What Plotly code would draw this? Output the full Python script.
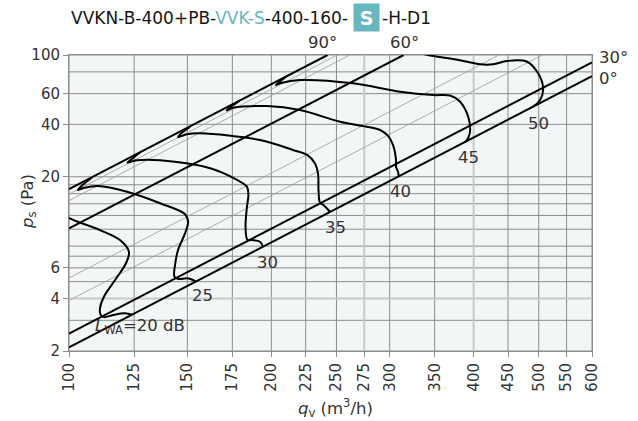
import math
import plotly.graph_objects as go

# ---- axes -------------------------------------------------------------
q_ticks = [100, 125, 150, 175, 200, 225, 250, 275, 300, 350, 400, 450, 500, 550, 600]
q_grid_light = [275, 400]
p_ticks = [2, 4, 6, 20, 40, 60, 100]
p_grid = [2, 3, 5, 6, 7, 8, 10, 12, 14, 16, 18, 20, 40, 60, 80, 100]
p_grid_light = [4]

# ---- damper positions (straight lines p ~ q^2) --------------------------
damper_labels = ["0°", "30°", "60°", "90°"]
damper_q = [[100, 600], [100, 600], [100, 314.7], [100, 242.5]]
damper_p = [[2.1, 75.6], [2.52, 90.7], [10.1, 100], [17.0, 100]]

# thin intermediate lines
aux_q = [[100, 250.8], [100, 261.7], [100, 436.4], [100, 506.4]]
aux_p = [[15.9, 100], [14.6, 100], [5.25, 100], [3.9, 100]]

# ---- sound power level curves L_WA (dB) --------------------------------
lwa_levels = [20, 25, 30, 35, 40, 45, 50]

q_20 = [98.3, 100.3, 111.2, 119.1, 122.8, 121.6, 117.1, 112.7, 111.2, 111.4, 112.7, 116.3, 121.2, 124.1]
p_20 = [12.2, 11.55, 9.89, 8.67, 7.40, 6.40, 5.11, 4.10, 3.53, 3.24, 3.13, 3.22, 3.29, 3.23]

q_25 = [108.2, 104.2, 103.1, 104.9, 110.4, 122.0, 136.6, 148.8, 150.4, 148.8, 145.3, 143.8, 143.5, 145.3, 149.8, 152.9, 154.6]
p_25 = [19.8, 17.6, 16.8, 17.2, 17.7, 16.4, 14.1, 12.2, 11.0, 9.47, 7.60, 6.23, 5.35, 5.18, 5.23, 5.11, 4.98]

q_30 = [127.5, 123.7, 122.2, 124.5, 126.2, 136.6, 162.2, 177.8, 184.0, 184.9, 184.0, 183.1, 184.3, 187.3, 192.4, 194.4]
p_30 = [27.6, 25.1, 24.1, 24.6, 24.9, 24.9, 22.4, 19.2, 17.5, 15.7, 13.5, 10.3, 8.7, 8.67, 8.48, 7.93]

q_35 = [151.4, 146.3, 145.3, 147.8, 149.8, 156.7, 192.4, 215.4, 226.1, 232.2, 234.7, 235.1, 236.3, 238.8, 244.5]
p_35 = [38.6, 35.0, 33.8, 34.5, 35.1, 35.5, 32.5, 28.5, 26.7, 23.9, 20.9, 16.8, 14.2, 13.8, 12.6]

q_40 = [179.1, 173.0, 171.6, 175.4, 197.0, 220.7, 253.1, 273.8, 290.3, 298.4, 303.5, 306.6, 306.6, 308.8, 309.3]
p_40 = [54.4, 49.6, 48.0, 49.8, 50.9, 48.3, 41.4, 39.1, 37.1, 34.3, 30.4, 24.9, 22.8, 21.3, 20.2]

q_45 = [211.8, 205.4, 203.2, 206.8, 220.7, 264.6, 310.9, 348.3, 369.0, 381.9, 392.6, 395.3, 392.6, 388.5]
p_45 = [76.3, 70.0, 67.3, 69.1, 71.8, 68.8, 61.6, 58.9, 58.5, 53.9, 44.2, 37.1, 33.4, 31.7]

q_50 = [327.4, 344.5, 369.0, 391.3, 409.0, 427.6, 448.5, 480.3, 498.8, 507.5, 502.3, 490.4, 488.7]
p_50 = [104.0, 99.3, 95.5, 91.5, 88.4, 88.4, 92.4, 91.5, 78.5, 64.4, 55.1, 50.5, 50.2]

lwa_q = [q_20, q_25, q_30, q_35, q_40, q_45, q_50]
lwa_p = [p_20, p_25, p_30, p_35, p_40, p_45, p_50]

# ---- styling ----------------------------------------------------------
FONT = "DejaVu Sans"
TXT = "#333333"
TITLE = "#151515"
TEAL = "#66b8bc"
GRID = "#8c8c8c"
GRID_LIGHT = "#c9c9c9"

W, H = 638, 421
ML, MR, MT, MB = 69, 46, 55, 70
PW, PH = W - ML - MR, H - MT - MB


def px(x):
    return (x - ML) / PW


def py(y):
    return (H - MB - y) / PH


def grid_xy(values, vertical):
    xs, ys = [], []
    for v in values:
        if vertical:
            xs += [v, v, None]
            ys += [p_grid[0], p_grid[-1], None]
        else:
            xs += [q_ticks[0], q_ticks[-1], None]
            ys += [v, v, None]
    return xs, ys


fig = go.Figure()

# grid
for vals, vert, col, w in [
    ([v for v in q_ticks if v not in q_grid_light], True, GRID, 1),
    (p_grid, False, GRID, 1),
    (q_grid_light, True, GRID_LIGHT, 2),
    (p_grid_light, False, GRID_LIGHT, 2),
]:
    gx, gy = grid_xy(vals, vert)
    fig.add_trace(go.Scatter(x=gx, y=gy, mode="lines", line=dict(color=col, width=w),
                             hoverinfo="skip", showlegend=False))

# thin intermediate lines
for q, p in zip(aux_q, aux_p):
    fig.add_trace(go.Scatter(x=q, y=p, mode="lines", line=dict(color="#9a9a9a", width=0.8),
                             hoverinfo="skip", showlegend=False))

# damper lines
for q, p, name in zip(damper_q, damper_p, damper_labels):
    fig.add_trace(go.Scatter(x=q, y=p, mode="lines", name=name,
                             line=dict(color="black", width=2), showlegend=False))

# sound level curves
for q, p, lv in zip(lwa_q, lwa_p, lwa_levels):
    fig.add_trace(go.Scatter(x=q, y=p, mode="lines", name=f"{lv} dB",
                             line=dict(color="black", width=2, shape="spline", smoothing=1.0),
                             showlegend=False))

ann = []


def label(text, x, y, xanchor="center", size=16.5, color=TXT, **kw):
    ann.append(dict(text=text, x=px(x), y=py(y), xref="paper", yref="paper",
                    xanchor=xanchor, yanchor="middle", showarrow=False,
                    font=dict(family=FONT, size=size, color=color), **kw))


# title
label(f"VVKN-B-400+PB-<span style='color:{TEAL}'>VVK-S</span>-400-160-", 69, 18,
      xanchor="left", size=17.0, color=TITLE)
label("<b>S</b>", 366, 17, size=19, color="white", bgcolor=TEAL, width=25, height=27, borderpad=0)
label("-H-D1", 380, 18, xanchor="left", size=17.0, color=TITLE)

# damper angle labels
label("90°", 322, 42)
label("60°", 404, 42)
label("30°", 597, 58, xanchor="left")
label("0°", 597, 78, xanchor="left")

# level labels
lvl_pos = {25: (202, 295), 30: (267, 262), 35: (335, 227), 40: (400, 191), 45: (468, 157), 50: (538, 123)}
for lv in lwa_levels[1:]:
    x, y = lvl_pos[lv]
    label(str(lv), x, y)
label(f"<i>L</i><sub>WA</sub>=20 dB", 93, 326, xanchor="left")

# axis titles
label("<i>q</i><sub>v</sub> (m<sup>3</sup>/h)", 335, 408)
label("<i>p</i><sub>s</sub> (Pa)", 28, 202, textangle=-90)

axis_common = dict(showgrid=False, zeroline=False, showline=True, linecolor=GRID, linewidth=1,
                   mirror=True, ticks="outside", ticklen=5, tickcolor=GRID,
                   tickfont=dict(family=FONT, size=15, color=TXT))

fig.update_layout(
    width=W, height=H,
    margin=dict(l=ML, r=MR, t=MT, b=MB),
    paper_bgcolor="white", plot_bgcolor="#f3f6f7",
    annotations=ann,
    xaxis=dict(type="log", range=[2, math.log10(600)], tickvals=q_ticks,
               ticktext=[str(v) for v in q_ticks], tickangle=-90, **axis_common),
    yaxis=dict(type="log", range=[math.log10(2), 2], tickvals=p_ticks,
               ticktext=[str(v) for v in p_ticks], **axis_common),
)

fig.write_html("out.html")
